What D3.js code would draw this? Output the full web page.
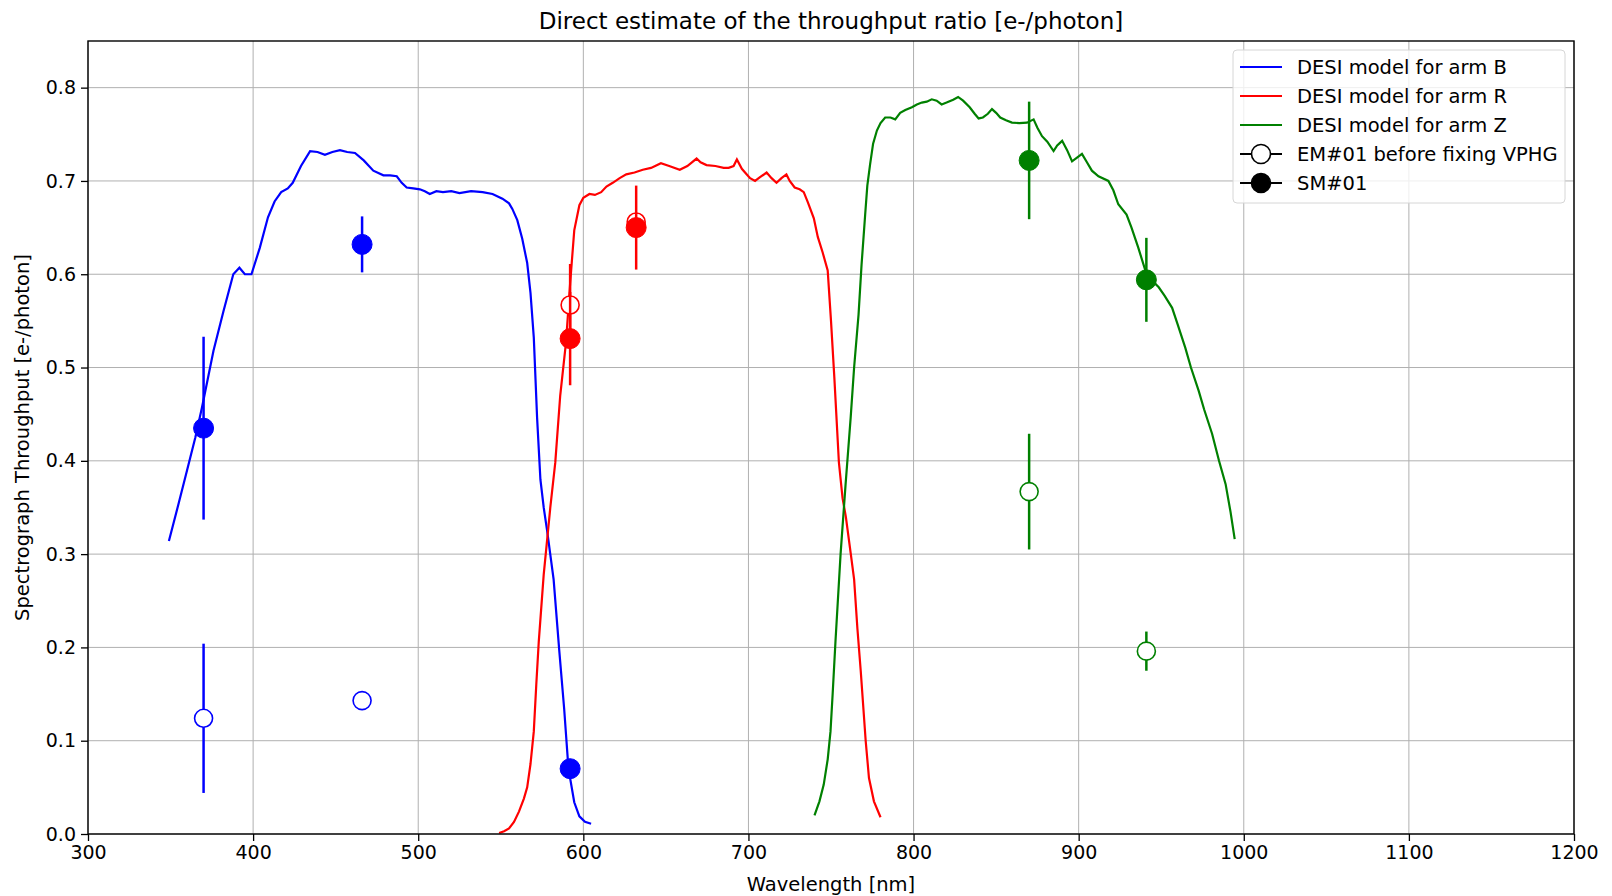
<!DOCTYPE html>
<html>
<head>
<meta charset="utf-8">
<script src="https://cdn.jsdelivr.net/npm/d3@7"></script>
<style>
    body { margin: 0; background: #ffffff; }
    svg { display: block; font-family: "DejaVu Sans", sans-serif; }
    .grid line { stroke: #b0b0b0; stroke-width: 1; }
    .axis text { font-size: 19px; fill: #000; }
    .axis line { stroke: #000; stroke-width: 1.3; }
</style>
</head>
<body>
<div id="chart"><svg></svg></div>
<script>
// DESI model curves, arm B
var armBWl = [349, 355, 360, 365, 369, 376, 382, 388, 391.7, 395, 399, 404, 409, 413, 417, 421, 424, 429, 434.5, 439, 443.5, 448, 452.6, 457, 461.7, 467, 472.8, 478.9, 483, 487, 490, 493, 497, 501, 504, 507, 511, 515, 520, 525, 532, 539, 545, 551, 555, 557, 560, 563, 566, 568, 570, 572, 574, 576, 578, 582, 585.4, 588.4, 591, 594.5, 597.6, 601, 604.7];
var armBVal = [0.314, 0.355, 0.39, 0.425, 0.457, 0.518, 0.56, 0.600, 0.607, 0.600, 0.600, 0.628, 0.661, 0.678, 0.688, 0.692, 0.698, 0.716, 0.732, 0.731, 0.728, 0.731, 0.733, 0.731, 0.730, 0.722, 0.711, 0.706, 0.706, 0.705, 0.698, 0.693, 0.692, 0.691, 0.689, 0.686, 0.689, 0.688, 0.689, 0.687, 0.689, 0.688, 0.686, 0.681, 0.676, 0.670, 0.658, 0.638, 0.612, 0.58, 0.532, 0.446, 0.38, 0.35, 0.326, 0.273, 0.197, 0.134, 0.070, 0.034, 0.019, 0.013, 0.011];

// arm R
var armRWl = [549, 552, 555, 558, 561, 564, 566, 568, 570, 571.5, 573, 576, 580, 583, 586, 589.5, 592, 594.5, 597.6, 600, 603.7, 607, 610.8, 614, 617.8, 622, 626, 631, 636, 641, 647, 652, 658.4, 663, 668.6, 671, 674.6, 680, 685, 688, 691, 693, 696, 699, 701, 704, 707, 711, 714, 717, 720, 723, 725, 728, 731, 733.5, 736, 739.6, 742, 745, 748, 750, 752, 754.8, 757, 759, 762, 764, 766, 768, 771, 773, 776, 780];
var armRVal = [0.001, 0.003, 0.006, 0.013, 0.024, 0.038, 0.05, 0.075, 0.11, 0.16, 0.206, 0.278, 0.350, 0.398, 0.470, 0.527, 0.59, 0.647, 0.674, 0.682, 0.686, 0.685, 0.688, 0.694, 0.698, 0.703, 0.707, 0.709, 0.712, 0.714, 0.719, 0.716, 0.712, 0.716, 0.724, 0.72, 0.717, 0.716, 0.714, 0.714, 0.716, 0.723, 0.713, 0.707, 0.703, 0.700, 0.704, 0.709, 0.703, 0.698, 0.703, 0.707, 0.7, 0.693, 0.691, 0.688, 0.677, 0.66, 0.64, 0.623, 0.604, 0.55, 0.49, 0.398, 0.36, 0.340, 0.30, 0.273, 0.22, 0.175, 0.10, 0.06, 0.035, 0.018];

// arm Z
var armZWl = [740, 743, 745.6, 748, 749.7, 751, 752.7, 755.8, 758.8, 761.9, 764, 766.7, 768.5, 770.7, 772, 773.7, 775.5, 777.8, 780, 782.8, 786, 788.9, 791.9, 795, 799, 802, 805, 808, 811, 814, 817, 820, 824, 827, 830, 834, 837, 839.4, 842, 845, 847.5, 850, 852.5, 856, 859.6, 864, 868.7, 872.7, 875, 877.8, 881, 884.8, 887, 890, 893, 896, 899, 902, 905, 908, 912, 918, 921, 924, 929, 932, 936, 940.4, 944, 948.5, 952, 956.6, 960, 964.6, 968, 972.7, 976, 980.8, 985, 989, 992, 994.5];
var armZVal = [0.02, 0.035, 0.053, 0.08, 0.11, 0.15, 0.206, 0.30, 0.374, 0.446, 0.50, 0.557, 0.61, 0.664, 0.695, 0.718, 0.74, 0.754, 0.762, 0.768, 0.768, 0.766, 0.773, 0.776, 0.779, 0.782, 0.784, 0.785, 0.7875, 0.786, 0.782, 0.784, 0.787, 0.790, 0.786, 0.779, 0.772, 0.767, 0.768, 0.772, 0.777, 0.773, 0.768, 0.765, 0.7625, 0.762, 0.7625, 0.766, 0.757, 0.748, 0.742, 0.732, 0.738, 0.743, 0.733, 0.721, 0.725, 0.729, 0.72, 0.711, 0.705, 0.700, 0.69, 0.675, 0.664, 0.65, 0.629, 0.604, 0.594, 0.586, 0.577, 0.564, 0.546, 0.521, 0.50, 0.475, 0.455, 0.429, 0.40, 0.375, 0.345, 0.316];

// measurements: EM#01 before fixing VPHG (open) and SM#01 (filled)
var emArm = ["B", "B", "R", "R", "Z", "Z"];
var emWl = [370, 466, 592, 632, 870, 941];
var emVal = [0.124, 0.143, 0.567, 0.656, 0.367, 0.196];
var emErr = [0.080, 0.0, 0.044, 0.0, 0.062, 0.021];

var smArm = ["B", "B", "B", "R", "R", "Z", "Z"];
var smWl = [370, 466, 592, 592, 632, 870, 941];
var smVal = [0.435, 0.632, 0.070, 0.531, 0.650, 0.722, 0.594];
var smErr = [0.098, 0.030, 0.0, 0.050, 0.045, 0.063, 0.045];

var xTicks = [300, 400, 500, 600, 700, 800, 900, 1000, 1100, 1200];
var yTicks = [0.0, 0.1, 0.2, 0.3, 0.4, 0.5, 0.6, 0.7, 0.8];

var armColor = { B: "#0000ff", R: "#ff0000", Z: "#008000" };

var legendItems = [
    { label: "DESI model for arm B", kind: "line", color: armColor.B },
    { label: "DESI model for arm R", kind: "line", color: armColor.R },
    { label: "DESI model for arm Z", kind: "line", color: armColor.Z },
    { label: "EM#01 before fixing VPHG", kind: "open", color: "#000" },
    { label: "SM#01", kind: "filled", color: "#000" }
];

var width = 1612, height = 896;
var margin = { top: 41, right: 38, bottom: 62, left: 88 };
var w = width - margin.left - margin.right;
var h = height - margin.top - margin.bottom;

var svg = d3.select("#chart svg").attr("width", width).attr("height", height);

var x = d3.scaleLinear().domain([300, 1200]).range([0, w]);
var y = d3.scaleLinear().domain([0, 0.85]).range([h, 0]);

var g = svg.append("g").attr("transform", "translate(" + margin.left + "," + margin.top + ")");

// grid
var grid = g.append("g").attr("class", "grid");
grid.selectAll(".gx").data(xTicks).enter().append("line")
    .attr("x1", function(d) { return x(d); }).attr("x2", function(d) { return x(d); })
    .attr("y1", 0).attr("y2", h);
grid.selectAll(".gy").data(yTicks).enter().append("line")
    .attr("y1", function(d) { return y(d); }).attr("y2", function(d) { return y(d); })
    .attr("x1", 0).attr("x2", w);

// model curves
var line = d3.line()
    .x(function(d) { return x(d[0]); })
    .y(function(d) { return y(d[1]); });

var curves = [
    { wl: armBWl, val: armBVal, color: armColor.B },
    { wl: armRWl, val: armRVal, color: armColor.R },
    { wl: armZWl, val: armZVal, color: armColor.Z }
];

g.append("g").selectAll("path")
    .data(curves)
    .enter().append("path")
    .attr("d", function(c) { return line(d3.zip(c.wl, c.val)); })
    .style("fill", "none")
    .style("stroke", function(c) { return c.color; })
    .style("stroke-width", 2.2);

// measurement points with error bars
function drawPoints(arms, wls, vals, errs, filled) {
    var pts = d3.range(wls.length).map(function(i) {
        return { arm: arms[i], wl: wls[i], val: vals[i], err: errs[i] };
    });
    var sel = g.append("g").selectAll("g").data(pts).enter().append("g");
    sel.filter(function(d) { return d.err > 0; })
        .append("line")
        .attr("x1", function(d) { return x(d.wl); })
        .attr("x2", function(d) { return x(d.wl); })
        .attr("y1", function(d) { return y(d.val - d.err); })
        .attr("y2", function(d) { return y(d.val + d.err); })
        .style("stroke", function(d) { return armColor[d.arm]; })
        .style("stroke-width", 2.5);
    sel.append("circle")
        .attr("cx", function(d) { return x(d.wl); })
        .attr("cy", function(d) { return y(d.val); })
        .attr("r", filled ? 10 : 9)
        .style("fill", function(d) { return filled ? armColor[d.arm] : "#ffffff"; })
        .style("stroke", function(d) { return armColor[d.arm]; })
        .style("stroke-width", filled ? 1 : 1.6);
}
drawPoints(emArm, emWl, emVal, emErr, false);
drawPoints(smArm, smWl, smVal, smErr, true);

// axes
var xAxis = g.append("g").attr("class", "axis")
    .attr("transform", "translate(0," + h + ")")
    .call(d3.axisBottom(x).tickValues(xTicks).tickSize(7).tickPadding(5).tickFormat(d3.format("d")));
var yAxis = g.append("g").attr("class", "axis")
    .call(d3.axisLeft(y).tickValues(yTicks).tickSize(7).tickPadding(5).tickFormat(d3.format(".1f")));
xAxis.select(".domain").remove();
yAxis.select(".domain").remove();
xAxis.selectAll("text").style("font-family", "DejaVu Sans");
yAxis.selectAll("text").style("font-family", "DejaVu Sans");

// frame
g.append("rect")
    .attr("width", w).attr("height", h)
    .style("fill", "none").style("stroke", "#000").style("stroke-width", 1.4);

// legend
var lg = g.append("g").attr("transform", "translate(" + (1233 - margin.left) + "," + (50 - margin.top) + ")");
lg.append("rect")
    .attr("width", 332).attr("height", 153).attr("rx", 4)
    .style("fill", "#ffffff").style("fill-opacity", 0.8)
    .style("stroke", "#d6d6d6").style("stroke-width", 1);

var rows = lg.selectAll(".row").data(legendItems).enter().append("g")
    .attr("transform", function(d, i) { return "translate(0," + (17 + i * 29) + ")"; });
rows.append("line")
    .attr("x1", 7).attr("x2", 49).attr("y1", 0).attr("y2", 0)
    .style("stroke", function(d) { return d.color; })
    .style("stroke-width", 2.2);
rows.filter(function(d) { return d.kind !== "line"; })
    .append("circle")
    .attr("cx", 28).attr("cy", 0).attr("r", 9.5)
    .style("fill", function(d) { return d.kind === "filled" ? "#000" : "#fff"; })
    .style("stroke", "#000").style("stroke-width", 1.6);
rows.append("text")
    .attr("x", 64).attr("y", 0).attr("dy", "0.35em")
    .style("font-size", "19.5px")
    .text(function(d) { return d.label; });

// title & axis labels
svg.append("text")
    .attr("x", margin.left + w / 2).attr("y", 29)
    .attr("text-anchor", "middle")
    .style("font-size", "23px")
    .text("Direct estimate of the throughput ratio [e-/photon]");

svg.append("text")
    .attr("x", margin.left + w / 2).attr("y", 891)
    .attr("text-anchor", "middle")
    .style("font-size", "19.5px")
    .text("Wavelength [nm]");

svg.append("text")
    .attr("transform", "translate(29," + (margin.top + h / 2) + ") rotate(-90)")
    .attr("text-anchor", "middle")
    .style("font-size", "19.5px")
    .text("Spectrograph Throughput [e-/photon]");
</script>
</body>
</html>
